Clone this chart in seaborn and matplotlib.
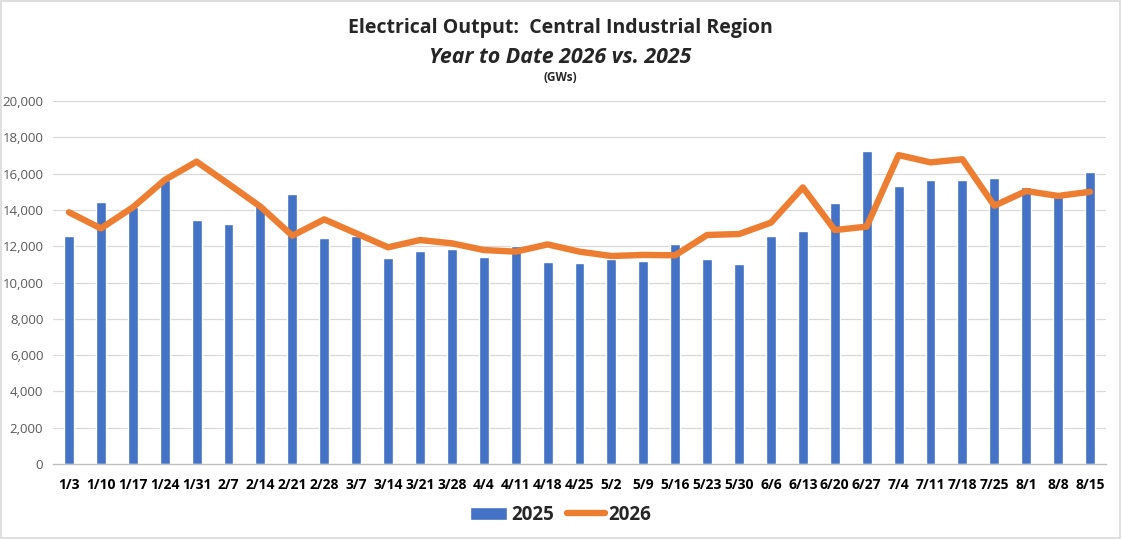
import numpy as np
import pandas as pd
import matplotlib
matplotlib.use("Agg")
import matplotlib.pyplot as plt
from matplotlib.ticker import FuncFormatter, FixedLocator
from matplotlib.patches import Rectangle
from matplotlib.lines import Line2D
import seaborn as sns

weeks = ['1/3', '1/10', '1/17', '1/24', '1/31', '2/7', '2/14', '2/21', '2/28', '3/7',
         '3/14', '3/21', '3/28', '4/4', '4/11', '4/18', '4/25', '5/2', '5/9', '5/16',
         '5/23', '5/30', '6/6', '6/13', '6/20', '6/27', '7/4', '7/11', '7/18', '7/25',
         '8/1', '8/8', '8/15']

output_2025 = [12560, 14440, 14150, 15650, 13440, 13220, 14270, 14880, 12450, 12550,
               11350, 11740, 11850, 11400, 12010, 11130, 11070, 11300, 11180, 12120,
               11290, 11020, 12560, 12840, 14380, 17250, 15320, 15650, 15650, 15760,
               15260, 14730, 16090]

output_2026 = [13870, 12980, 14140, 15650, 16660, 15430, 14180, 12580, 13480, 12710,
               11940, 12340, 12160, 11790, 11700, 12100, 11700, 11460, 11520, 11500,
               12620, 12670, 13300, 15240, 12890, 13080, 17020, 16620, 16790, 14230,
               15040, 14770, 15000]

y_ticks = list(range(0, 20001, 2000))

blue = '#4472C4'
orange = '#ED7D31'

sns.set_style("white")
plt.rcParams['font.family'] = ['Open Sans', 'DejaVu Sans']
narrow = ['Liberation Sans Narrow', 'Open Sans', 'DejaVu Sans']

df = pd.DataFrame({'week': weeks, 'y2025': output_2025, 'y2026': output_2026})
df['pos'] = np.arange(len(df))

fig = plt.figure(figsize=(11.21, 5.39), dpi=100)
ax = fig.add_axes([0.0473, 0.1391, 0.9393, 0.6735])

sns.barplot(data=df, x='week', y='y2025', color=blue, width=0.31,
            saturation=1, ax=ax, zorder=2)
sns.lineplot(data=df, x='pos', y='y2026', color=orange, linewidth=4.6,
             ax=ax, zorder=3, solid_capstyle='round', solid_joinstyle='round')

n = len(weeks)
ax.set_xlim(-0.5, n - 0.5)
ax.set_ylim(0, 20000)
ax.yaxis.set_major_locator(FixedLocator(y_ticks))
ax.yaxis.set_major_formatter(FuncFormatter(lambda v, p: f"{int(v):,}"))
ax.grid(axis='y', color='#D9D9D9', linewidth=0.9, zorder=0)
ax.set_axisbelow(True)
ax.set_xlabel('')
ax.set_ylabel('')

ax.set_xticks(np.arange(n))
ax.set_xticklabels(weeks, fontsize=10, fontweight='bold', color='black', family=narrow)
ax.set_xticks(np.arange(n + 1) - 0.5, minor=True)
ax.tick_params(axis='x', which='major', length=0, pad=10)
ax.tick_params(axis='x', which='minor', length=5, color='#BFBFBF', width=0.9)
ax.tick_params(axis='y', length=0, labelsize=9.5, labelcolor='#595959', pad=7)
for t in ax.get_yticklabels():
    t.set_family(narrow)

for s in ['top', 'right', 'left']:
    ax.spines[s].set_visible(False)
ax.spines['bottom'].set_color('#BFBFBF')
ax.spines['bottom'].set_linewidth(0.9)

fig.text(0.5, 0.948, 'Electrical Output:  Central Industrial Region', ha='center',
         va='center', fontsize=14, fontweight='bold')
fig.text(0.5, 0.893, 'Year to Date 2026 vs. 2025', ha='center', va='center',
         fontsize=15.4, fontweight='bold', style='italic')
fig.text(0.5, 0.857, '(GWs)', ha='center', va='center', fontsize=8.5,
         fontweight='bold')

handles = [Rectangle((0, 0), 1, 1, facecolor=blue),
           Line2D([0], [0], color=orange, linewidth=4.6, solid_capstyle='round')]
leg = fig.legend(handles, ['2025', '2026'], loc='center', bbox_to_anchor=(0.5, 0.045),
                 ncol=2, frameon=False, handlelength=2.0, handletextpad=0.2,
                 columnspacing=0.7, prop={'weight': 'bold', 'size': 13.5})

fig.patches.append(Rectangle((0.001, 0.001), 0.998, 0.997, transform=fig.transFigure,
                             fill=False, edgecolor='#D9D9D9', linewidth=1.2))

fig.savefig('out.png', dpi=100)
